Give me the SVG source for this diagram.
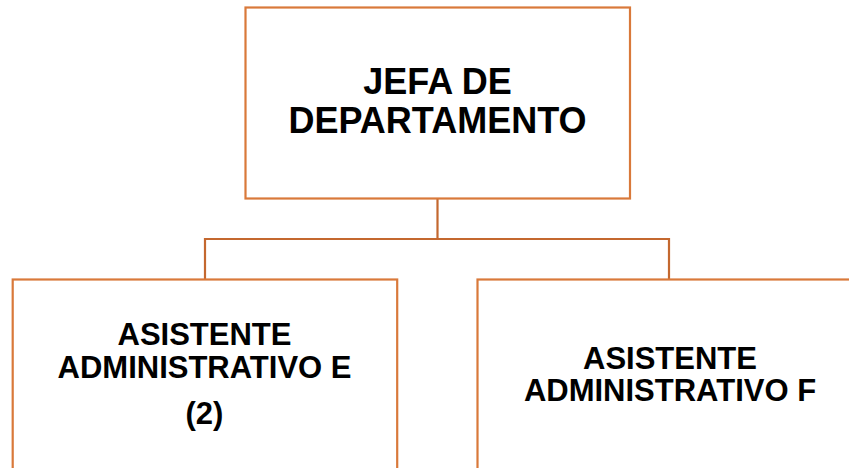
<svg xmlns="http://www.w3.org/2000/svg" width="849" height="468" viewBox="0 0 849 468">
<style>
.box{fill:#ffffff;stroke:#D9793A;stroke-width:2.2}
.conn{fill:none;stroke:#C4682F;stroke-width:2.2}
.t{font-family:"Liberation Sans",Arial,sans-serif;font-weight:bold;fill:#000;text-anchor:middle}
.big{font-size:36px}
.mid{font-size:31px}
</style>
<rect width="849" height="468" fill="#ffffff"/>
<g id="connectors">
<path class="conn" d="M437.5,199 V239 M205,239 H669 M205,238 V280 M669,238 V280"/>
</g>
<g id="jefa">
<rect class="box" x="245.5" y="7.5" width="384.5" height="191"/>
<text class="t big" x="437.5" y="94">JEFA DE</text>
<text class="t big" x="437.5" y="133">DEPARTAMENTO</text>
</g>
<g id="asistente-e">
<rect class="box" x="12.7" y="279.5" width="384.5" height="200"/>
<text class="t mid" x="204.5" y="345">ASISTENTE</text>
<text class="t mid" x="204.5" y="377.5">ADMINISTRATIVO E</text>
<text class="t mid" x="204.5" y="424">(2)</text>
</g>
<g id="asistente-f">
<rect class="box" x="477.5" y="279.5" width="400" height="200"/>
<text class="t mid" x="670" y="368.5">ASISTENTE</text>
<text class="t mid" x="670" y="401">ADMINISTRATIVO F</text>
</g>
</svg>
